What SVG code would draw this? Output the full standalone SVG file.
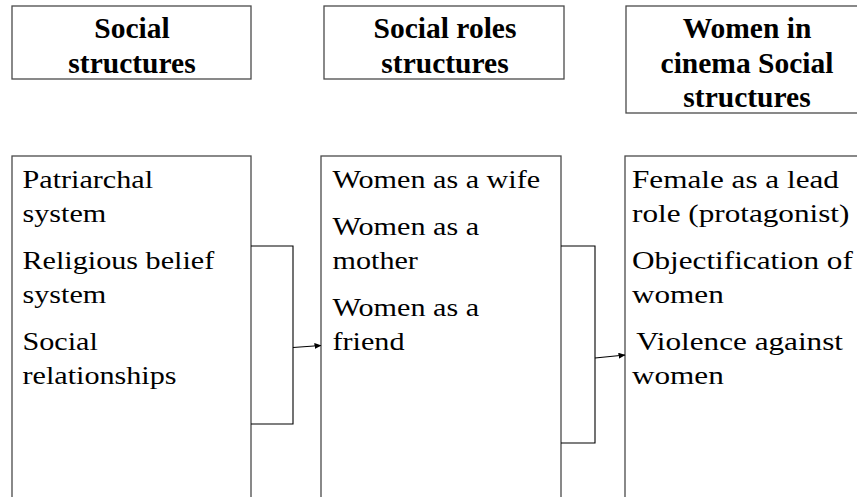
<svg xmlns="http://www.w3.org/2000/svg" width="857" height="497" viewBox="0 0 857 497">
<defs>
<style>
.box{fill:#fff;stroke:#4a4a4a;stroke-width:1.3}
.hd{font-weight:bold;font-size:29.5px;fill:#000;text-anchor:middle}
.bd{font-size:26px;fill:#000}
.con{fill:none;stroke:#000;stroke-width:1.1}
</style>
<marker id="arr" markerWidth="7" markerHeight="6" refX="6.5" refY="3" orient="auto" markerUnits="userSpaceOnUse">
<path d="M0,0 L7,3 L0,6 Z" fill="#000"/>
</marker>
</defs>
<rect width="857" height="497" fill="#fff"/>
<g font-family="Liberation Serif, Times New Roman, serif">
<g id="head1">
<rect class="box" x="12" y="6" width="239" height="73"/>
<text class="hd" x="132" y="38">Social</text>
<text class="hd" x="132" y="73">structures</text>
</g>
<g id="head2">
<rect class="box" x="324" y="6" width="240" height="73"/>
<text class="hd" x="445" y="38">Social roles</text>
<text class="hd" x="445" y="73">structures</text>
</g>
<g id="head3">
<rect class="box" x="626" y="6" width="241" height="107"/>
<text class="hd" x="747" y="38">Women in</text>
<text class="hd" x="747" y="73">cinema Social</text>
<text class="hd" x="747" y="107">structures</text>
</g>
<g id="box1">
<rect class="box" x="12" y="156" width="239" height="360"/>
<g transform="translate(22.5,0) scale(1.16,1)">
<text class="bd" x="0" y="188">Patriarchal</text>
<text class="bd" x="0" y="222">system</text>
<text class="bd" x="0" y="269">Religious belief</text>
<text class="bd" x="0" y="303">system</text>
<text class="bd" x="0" y="350">Social</text>
<text class="bd" x="0" y="384">relationships</text>
</g>
</g>
<g id="box2">
<rect class="box" x="321" y="156" width="240" height="360"/>
<g transform="translate(332.5,0) scale(1.16,1)">
<text class="bd" x="0" y="188">Women as a wife</text>
<text class="bd" x="0" y="235">Women as a</text>
<text class="bd" x="0" y="269">mother</text>
<text class="bd" x="0" y="316">Women as a</text>
<text class="bd" x="0" y="350">friend</text>
</g>
</g>
<g id="box3">
<rect class="box" x="625" y="156" width="260" height="360"/>
<g transform="translate(632,0) scale(1.2,1)">
<text class="bd" x="0" y="188">Female as a lead</text>
<text class="bd" x="0" y="222">role (protagonist)</text>
<text class="bd" x="0" y="269">Objectification of</text>
<text class="bd" x="0" y="303">women</text>
<text class="bd" x="3.5" y="350">Violence against</text>
<text class="bd" x="0" y="384">women</text>
</g>
</g>
</g>
<g id="connectors">
<path class="con" d="M251,246 H293 V424 H251"/>
<path class="con" d="M293,347.5 L321,345.5" marker-end="url(#arr)"/>
<path class="con" d="M561,246 H595 V443 H561"/>
<path class="con" d="M595,358 L625,355" marker-end="url(#arr)"/>
</g>
</svg>
